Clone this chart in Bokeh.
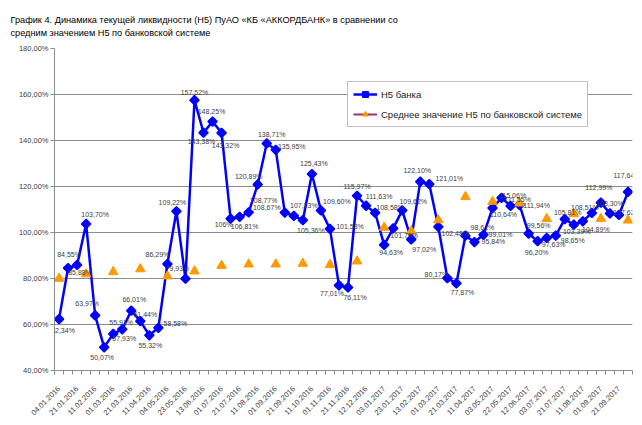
import math
from bokeh.plotting import figure
from bokeh.models import (ColumnDataSource, FixedTicker, LabelSet, Legend, LegendItem,
                          Range1d)
from bokeh.core.properties import value
from bokeh.embed import file_html
from bokeh.resources import INLINE

# ---------------- data ----------------
title_line1 = "График 4.  Динамика текущей ликвидности (Н5) ПуАО «КБ «АККОРДБАНК»  в сравнении со"
title_line2 = "средним значением Н5 по банковской системе"

bank_name = "Н5 банка"
avg_name = "Среднее значение Н5 по банковской системе"

# every other observation date is shown on the axis
date_labels = ["04.01.2016", "21.01.2016", "11.02.2016", "01.03.2016", "21.03.2016",
               "11.04.2016", "04.05.2016", "23.05.2016", "13.06.2016", "01.07.2016",
               "21.07.2016", "11.08.2016", "01.09.2016", "21.09.2016", "11.10.2016",
               "01.11.2016", "21.11.2016", "12.12.2016", "03.01.2017", "23.01.2017",
               "13.02.2017", "01.03.2017", "21.03.2017", "11.04.2017", "03.05.2017",
               "22.05.2017", "12.06.2017", "03.07.2017", "21.07.2017", "11.08.2017",
               "01.09.2017", "21.09.2017"]

bank_n5 = [62.34, 84.55, 85.88, 103.70, 63.97, 50.07, 55.91, 57.93, 66.01, 61.44,
           55.32, 58.58, 86.29, 109.22, 79.93, 157.52, 143.38, 148.25, 143.32, 106.00,
           106.81, 108.77, 120.89, 138.71, 135.95, 108.67, 107.23, 105.36, 125.43, 109.60,
           101.58, 77.01, 76.11, 115.97, 111.63, 108.58, 94.63, 101.79, 109.62, 97.02,
           122.10, 121.01, 102.48, 80.17, 77.87, 98.61, 95.84, 99.01, 110.64, 115.06,
           111.55, 111.94, 99.56, 96.20, 97.63, 98.65, 105.81, 103.39, 104.89, 108.51,
           112.99, 108.30, 107.62, 117.64]

# system average, known for every third observation
avg_n5 = [80.0, 81.9, 82.9, 84.1, 81.0, 83.2, 85.6, 86.2, 86.2, 86.5, 86.0,
          87.5, 102.2, 100.6, 105.4, 115.5, 113.4, 112.7, 106.0, 108.1, 106.0, 105.3]

y_ticks = [40, 60, 80, 100, 120, 140, 160, 180]

# data label placement (screen px relative to the point; dy positive = down)
label_dx = [4, 1, 3, 9, -8, -2, 8, 2, 3, 5, 1, 17, -10, -4, -8, 0, -2, -1, 4, -7,
            5, 15, -9, 5, 16, -18, 10, 8, 2, 16, 20, -7, 7, 0, 13, 15, 7, 11, 11, 13,
            -3, 20, 17, -11, 6, 17, 19, 17, 11, 11, 7, 17, 10, -1, 7, 17, 3, 3, 13, -7,
            -2, 0, 8, -1]
label_dy = [11, -14, 8, -9, -12, 10, -11, 9, -11, -7, 10, -4, -10, -9, -10, -8, 9, -10, 13, 6,
            10, -12, -8, -9, -3, -5, -10, 10, -11, -9, -2, 8, 10, -9, -9, -5, 8, 7, -9, 10,
            -11, -6, 7, -4, 9, -8, -1, 0, 6, -2, -6, 0, -8, 11, 7, 5, -7, 7, 8, -5,
            -15, -10, -2, -16]

# ---------------- derived ----------------
n = len(bank_n5)
idx = list(range(n))
avg_step = 3
avg_full = [float("nan")] * n
avg_x = []
for k, v in enumerate(avg_n5):
    avg_full[k * avg_step] = v
    avg_x.append(k * avg_step)


def pct(v):
    if abs(v - round(v)) < 1e-9:
        return f"{int(round(v))}%"
    return f"{v:.2f}".replace(".", ",") + "%"


FONT = "Liberation Sans"
TXT = "#404040"
GRID = "#8c8c8c"

p = figure(width=642, height=425, x_range=Range1d(-0.5, n - 0.5), y_range=Range1d(40, 180),
           output_backend="svg", toolbar_location=None,
           min_border_left=54, min_border_right=10, min_border_top=48, min_border_bottom=55)
p.outline_line_color = None

# two-line chart title
p.title.text = title_line1 + "\n" + title_line2
p.title.align = "left"
p.title.vertical_align = "top"
p.title.offset = -44
p.title.text_font = FONT
p.title.text_font_size = "9.2px"
p.title.text_font_style = "normal"
p.title.text_color = "black"
p.title.text_line_height = 1.3
p.title.standoff = 18

# axes
p.xaxis.ticker = FixedTicker(ticks=list(range(0, n, 2)),
                             minor_ticks=[i - 0.5 for i in range(n + 1)])
p.xaxis.major_label_overrides = {2 * i: lbl for i, lbl in enumerate(date_labels)}
p.xaxis.major_label_orientation = math.pi / 4
p.xaxis.major_tick_line_color = None
p.xaxis.minor_tick_in = 0
p.xaxis.minor_tick_out = 4
p.xaxis.minor_tick_line_color = GRID
p.xaxis.axis_line_color = GRID
p.xaxis.major_label_text_font = FONT
p.xaxis.major_label_text_font_size = "7.5px"
p.xaxis.major_label_text_color = TXT
p.xaxis.major_label_standoff = 11
p.xgrid.grid_line_color = None

p.yaxis.ticker = FixedTicker(ticks=y_ticks)
p.yaxis.major_label_overrides = {t: f"{t:.2f}".replace(".", ",") + "%" for t in y_ticks}
p.yaxis.major_tick_in = 0
p.yaxis.major_tick_out = 4
p.yaxis.minor_tick_line_color = None
p.yaxis.major_tick_line_color = GRID
p.yaxis.axis_line_color = GRID
p.yaxis.major_label_text_font = FONT
p.yaxis.major_label_text_font_size = "7.5px"
p.yaxis.major_label_text_color = TXT
p.yaxis.major_label_standoff = 2
p.ygrid.grid_line_color = GRID

# series
src = ColumnDataSource(dict(x=idx, y=bank_n5, text=[pct(v) for v in bank_n5],
                            dx=label_dx, dy=[-d for d in label_dy]))
bank_line = p.line("x", "y", source=src, line_color="#0000FF", line_width=2.5)
bank_pts = p.scatter("x", "y", source=src, marker="square", angle=math.pi / 4, size=6.5,
                     fill_color="#0000FF", line_color="#0000FF", line_width=1.5)

avg_line = p.line(idx, avg_full, line_color="#993366", line_width=2)
avg_pts = p.scatter(avg_x, avg_n5, marker="triangle", size=9.5,
                    fill_color="#FF9900", line_color="#FF9900")

labels = LabelSet(x="x", y="y", text="text", x_offset="dx", y_offset="dy", source=src,
                  text_font=value(FONT), text_font_size="7px", text_color=TXT,
                  text_align="center", text_baseline="middle")
p.add_layout(labels)

legend = Legend(items=[LegendItem(label=bank_name, renderers=[bank_line, bank_pts]),
                       LegendItem(label=avg_name, renderers=[avg_line, avg_pts])],
                location=(293, 243), orientation="vertical",
                label_text_font=FONT, label_text_font_size="9.5px", label_text_color="#1a1a1a",
                glyph_width=24, glyph_height=14, label_height=14, spacing=6, padding=5,
                margin=0, label_standoff=4,
                border_line_color="#7f7f7f", border_line_width=1,
                background_fill_color="white", background_fill_alpha=1.0)
p.add_layout(legend)

open("out.html", "w").write(file_html(p, INLINE))
